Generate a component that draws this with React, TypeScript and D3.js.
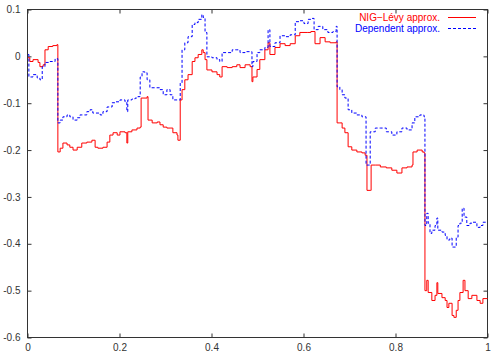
import React, { useEffect, useRef } from "react";
import * as d3 from "d3";

// tick values
const xTicks = [0, 0.2, 0.4, 0.6, 0.8, 1];
const yTicks = [0.1, 0, -0.1, -0.2, -0.3, -0.4, -0.5, -0.6];

// NIG-Levy approx. (red)
const nigX = [0.001, 0.005, 0.012, 0.023, 0.027, 0.034, 0.038, 0.045, 0.055, 0.064,
  0.066, 0.071, 0.077, 0.086, 0.092, 0.099, 0.108, 0.118, 0.129, 0.140,
  0.147, 0.153, 0.164, 0.173, 0.179, 0.186, 0.195, 0.201, 0.212, 0.216,
  0.218, 0.227, 0.238, 0.245, 0.247, 0.260, 0.262, 0.271, 0.282, 0.288,
  0.295, 0.303, 0.310, 0.316, 0.325, 0.327, 0.332, 0.336, 0.342, 0.349,
  0.358, 0.364, 0.371, 0.379, 0.382, 0.386, 0.390, 0.401, 0.412, 0.418,
  0.423, 0.434, 0.445, 0.455, 0.462, 0.473, 0.484, 0.488, 0.490, 0.499,
  0.505, 0.516, 0.523, 0.527, 0.538, 0.549, 0.560, 0.571, 0.582, 0.592,
  0.608, 0.616, 0.625, 0.636, 0.647, 0.658, 0.671, 0.673, 0.679, 0.684,
  0.690, 0.697, 0.705, 0.716, 0.727, 0.734, 0.738, 0.745, 0.747, 0.756,
  0.767, 0.780, 0.792, 0.803, 0.814, 0.825, 0.836, 0.838, 0.847, 0.858,
  0.862, 0.864, 0.868, 0.871, 0.879, 0.886, 0.890, 0.892, 0.901, 0.908,
  0.912, 0.916, 0.923, 0.927, 0.932, 0.936, 0.940, 0.947, 0.951, 0.958,
  0.966, 0.977, 0.984, 0.990, 1.0];
const nigY = [-0.003, -0.011, -0.007, -0.013, -0.022, -0.018, 0.014, 0.021, 0.023, 0.025,
  -0.204, -0.196, -0.185, -0.189, -0.194, -0.200, -0.194, -0.185, -0.183, -0.179,
  -0.194, -0.196, -0.194, -0.183, -0.168, -0.163, -0.168, -0.161, -0.163, -0.185,
  -0.161, -0.157, -0.153, -0.151, -0.089, -0.086, -0.136, -0.142, -0.140, -0.146,
  -0.151, -0.153, -0.153, -0.163, -0.168, -0.179, -0.093, -0.071, -0.050, -0.039,
  -0.011, -0.003, 0.004, 0.014, 0.008, -0.007, -0.029, -0.033, -0.039, -0.044,
  -0.022, -0.024, -0.022, -0.018, -0.024, -0.018, -0.022, -0.054, -0.044, -0.028,
  -0.007, 0.014, 0.029, 0.004, 0.019, 0.027, 0.023, 0.027, 0.044, 0.051,
  0.051, 0.053, 0.027, 0.040, 0.031, 0.029, 0.031, -0.142, -0.142, -0.153,
  -0.163, -0.193, -0.200, -0.204, -0.206, -0.211, -0.286, -0.286, -0.232, -0.232,
  -0.236, -0.238, -0.243, -0.249, -0.238, -0.236, -0.232, -0.204, -0.200, -0.204,
  -0.206, -0.500, -0.478, -0.504, -0.521, -0.510, -0.483, -0.506, -0.515, -0.521,
  -0.536, -0.527, -0.553, -0.557, -0.542, -0.521, -0.504, -0.478, -0.500, -0.517,
  -0.510, -0.521, -0.527, -0.517, -0.517];

// Dependent approx. (blue)
const depX = [0.001, 0.003, 0.012, 0.021, 0.027, 0.032, 0.038, 0.049, 0.060, 0.064,
  0.066, 0.071, 0.077, 0.086, 0.092, 0.099, 0.108, 0.114, 0.129, 0.136,
  0.142, 0.158, 0.164, 0.173, 0.184, 0.190, 0.201, 0.212, 0.216, 0.218,
  0.227, 0.234, 0.240, 0.245, 0.249, 0.255, 0.260, 0.266, 0.277, 0.288,
  0.295, 0.303, 0.310, 0.316, 0.327, 0.332, 0.336, 0.342, 0.349, 0.358,
  0.364, 0.371, 0.379, 0.382, 0.386, 0.390, 0.401, 0.412, 0.418, 0.423,
  0.434, 0.445, 0.455, 0.462, 0.473, 0.484, 0.488, 0.490, 0.499, 0.505,
  0.516, 0.523, 0.527, 0.538, 0.549, 0.560, 0.571, 0.582, 0.592, 0.601,
  0.610, 0.616, 0.623, 0.632, 0.642, 0.653, 0.664, 0.671, 0.673, 0.679,
  0.684, 0.690, 0.697, 0.705, 0.716, 0.727, 0.734, 0.736, 0.742, 0.745,
  0.756, 0.767, 0.780, 0.792, 0.803, 0.814, 0.825, 0.836, 0.842, 0.853,
  0.862, 0.864, 0.868, 0.871, 0.875, 0.879, 0.886, 0.890, 0.892, 0.901,
  0.908, 0.912, 0.918, 0.923, 0.927, 0.932, 0.936, 0.940, 0.945, 0.949,
  0.955, 0.962, 0.968, 0.977, 0.984, 0.990, 1.0];
const depY = [0.004, -0.044, -0.039, -0.046, -0.050, -0.022, -0.013, -0.011, -0.005, -0.005,
  -0.142, -0.136, -0.129, -0.125, -0.129, -0.136, -0.131, -0.125, -0.118, -0.114,
  -0.121, -0.125, -0.118, -0.108, -0.099, -0.097, -0.093, -0.097, -0.118, -0.093,
  -0.091, -0.089, -0.086, -0.044, -0.033, -0.035, -0.050, -0.067, -0.067, -0.071,
  -0.082, -0.071, -0.082, -0.093, -0.093, -0.057, 0.014, 0.029, 0.042, 0.068,
  0.072, 0.079, 0.089, 0.083, 0.051, -0.001, -0.003, -0.007, -0.011, 0.008,
  0.008, 0.014, 0.014, 0.008, 0.010, 0.010, -0.022, -0.011, 0.008, 0.014,
  0.019, 0.057, 0.021, 0.029, 0.044, 0.042, 0.046, 0.074, 0.076, 0.070,
  0.079, 0.081, 0.057, 0.064, 0.057, 0.051, 0.053, 0.064, -0.065, -0.071,
  -0.082, -0.089, -0.114, -0.121, -0.125, -0.129, -0.129, -0.232, -0.232, -0.161,
  -0.153, -0.153, -0.161, -0.168, -0.161, -0.153, -0.157, -0.142, -0.129, -0.125,
  -0.129, -0.361, -0.335, -0.356, -0.378, -0.371, -0.361, -0.345, -0.371, -0.375,
  -0.382, -0.392, -0.388, -0.407, -0.407, -0.386, -0.361, -0.356, -0.324, -0.343,
  -0.361, -0.356, -0.354, -0.365, -0.361, -0.354, -0.354];

const font = "'Liberation Sans', Arial, sans-serif";

function App() {
  const svgRef = useRef(null);

  useEffect(() => {
    const svg = d3.select(svgRef.current);
    svg.selectAll("*").remove();

    const x = d3.scaleLinear().domain([0, 1]).range([27.5, 487.5]);
    const y = d3.scaleLinear().domain([-0.6, 0.1]).range([337.5, 9.5]);
    const fmt = (d) => d3.format("~g")(d).replace("\u2212", "-");

    // ticks on all four sides, pointing inwards
    const bottom = svg.append("g").attr("transform", "translate(0,337.5)")
      .call(d3.axisBottom(x).tickValues(xTicks).tickSize(-4).tickPadding(6).tickFormat(fmt));
    const top = svg.append("g").attr("transform", "translate(0,9.5)")
      .call(d3.axisTop(x).tickValues(xTicks).tickSize(-4).tickFormat(() => ""));
    const left = svg.append("g").attr("transform", "translate(27.5,0)")
      .call(d3.axisLeft(y).tickValues(yTicks).tickSize(-4).tickPadding(7).tickFormat(fmt));
    const right = svg.append("g").attr("transform", "translate(487.5,0)")
      .call(d3.axisRight(y).tickValues(yTicks).tickSize(-4).tickFormat(() => ""));

    [bottom, top, left, right].forEach((g) => {
      g.select(".domain").remove();
      g.selectAll("line").attr("stroke", "#333");
      g.selectAll("text").attr("fill", "#333").style("font-family", font).style("font-size", "10px");
    });

    svg.append("rect")
      .attr("x", 27.5).attr("y", 9.5).attr("width", 460).attr("height", 328)
      .attr("fill", "none").attr("stroke", "#333");

    const line = d3.line().curve(d3.curveStepAfter).x((d) => x(d[0])).y((d) => y(d[1]));

    svg.append("path")
      .datum(d3.zip(nigX, nigY))
      .attr("d", line)
      .attr("fill", "none")
      .attr("stroke", "#ff0000")
      .attr("stroke-width", 1);

    svg.append("path")
      .datum(d3.zip(depX, depY))
      .attr("d", line)
      .attr("fill", "none")
      .attr("stroke", "#0000ff")
      .attr("stroke-width", 1)
      .attr("stroke-dasharray", "3,2");

    // legend
    const legend = svg.append("g").style("font-family", font).style("font-size", "10px");
    legend.append("text").attr("x", 440).attr("y", 21).attr("text-anchor", "end")
      .attr("fill", "#ff0000").text("NIG\u2212L\u00e9vy approx.");
    legend.append("line").attr("x1", 448).attr("x2", 476).attr("y1", 17.5).attr("y2", 17.5)
      .attr("stroke", "#ff0000");
    legend.append("text").attr("x", 440).attr("y", 31.5).attr("text-anchor", "end")
      .attr("fill", "#0000ff").text("Dependent approx.");
    legend.append("line").attr("x1", 448).attr("x2", 476).attr("y1", 28.5).attr("y2", 28.5)
      .attr("stroke", "#0000ff").attr("stroke-dasharray", "3,2");
  }, []);

  return (
    <svg ref={svgRef} width={495} height={358}
      style={{ position: "fixed", left: 0, top: 0, background: "#fff" }} />
  );
}

export default App;
